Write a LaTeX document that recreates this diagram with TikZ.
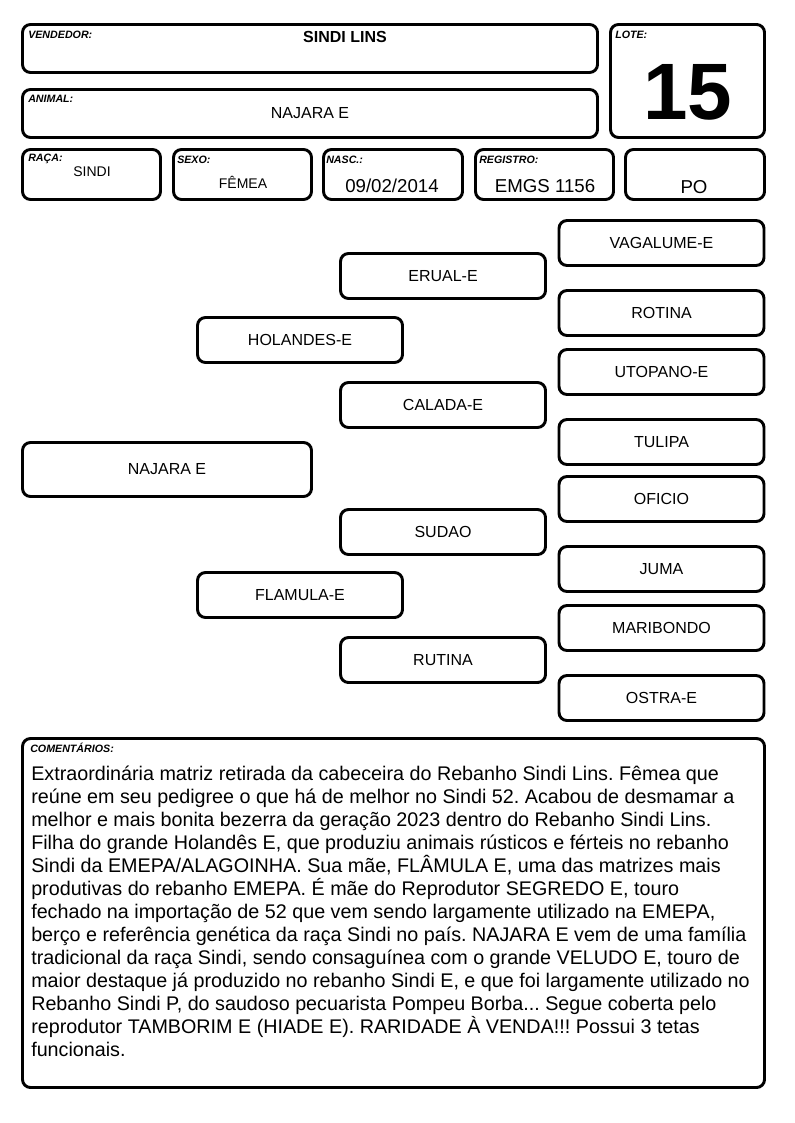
\documentclass[tikz,border=0pt]{standalone}
\usepackage{fontspec}
\setmainfont{Liberation Sans}
\usepackage{tikz}
\usetikzlibrary{positioning,calc}
\frenchspacing

\begin{document}
\begin{tikzpicture}[
    x=0.75pt, y=-0.75pt,
    box/.style={rectangle, draw=black, line width=2.2pt, rounded corners=6pt, inner sep=0pt},
    pedbox/.style={box, minimum width=205*0.75pt, minimum height=45*0.75pt, font=\fontsize{12}{14}\selectfont},
    tag/.style={anchor=base west, inner sep=0pt, font=\fontsize{8}{9}\selectfont\bfseries\itshape},
    value/.style={anchor=base, inner sep=0pt}
]
    \useasboundingbox (0,0) rectangle (794,1123);

    % header
    \node[box, minimum width=575*0.75pt, minimum height=48*0.75pt] (vendedor) at (310,48.5) {};
    \node[box, minimum width=575*0.75pt, minimum height=48*0.75pt] (animal) at (310,113.5) {};
    \node[box, minimum width=154*0.75pt, minimum height=113*0.75pt] (lote) at (687.5,81) {};
    \node[box, minimum width=138*0.75pt, minimum height=50*0.75pt] (raca) at (91.5,174.5) {};
    \node[box, minimum width=138*0.75pt, minimum height=50*0.75pt] (sexo) at (242.5,174.5) {};
    \node[box, minimum width=139*0.75pt, minimum height=50*0.75pt] (nasc) at (393,174.5) {};
    \node[box, minimum width=138*0.75pt, minimum height=50*0.75pt] (registro) at (544.5,174.5) {};
    \node[box, minimum width=139*0.75pt, minimum height=50*0.75pt] (po) at (695,174.5) {};

    \node[tag] (vendedortag) at (28,39) {VENDEDOR:};
    \node[tag] (animaltag) at (28,103) {ANIMAL:};
    \node[tag] (lotetag) at (615,39) {LOTE:};
    \node[tag] (racatag) at (28,162) {RAÇA:};
    \node[tag] (sexotag) at (177,164) {SEXO:};
    \node[tag] (nasctag) at (326,164) {NASC.:};
    \node[tag] (registrotag) at (479,164) {REGISTRO:};

    \node[value, font=\fontsize{12}{14}\selectfont\bfseries] (vendedorval) at (345,43) {SINDI LINS};
    \node[value, font=\fontsize{12}{14}\selectfont] (animalval) at (310,119) {NAJARA E};
    \node[value, font=\fontsize{60}{60}\selectfont\bfseries] (loteval) at (688,120) {15};
    \node[value, font=\fontsize{10.5}{12}\selectfont] (racaval) at (92,177) {SINDI};
    \node[value, font=\fontsize{10.5}{12}\selectfont] (sexoval) at (243,189) {FÊMEA};
    \node[value, font=\fontsize{14}{16}\selectfont] (nascval) at (392,193) {09/02/2014};
    \node[value, font=\fontsize{14}{16}\selectfont] (registroval) at (545,193) {EMGS 1156};
    \node[value, font=\fontsize{14}{16}\selectfont] (poval) at (694,194) {PO};

    % pedigree
    \node[pedbox, minimum width=289*0.75pt, minimum height=54*0.75pt] (najara) at (167,469.5) {NAJARA E};
    \node[pedbox] (holandes) at (300,340) {HOLANDES-E};
    \node[pedbox] (flamula) at (300,595) {FLAMULA-E};
    \node[pedbox] (erual) at (443,276) {ERUAL-E};
    \node[pedbox] (calada) at (443,405) {CALADA-E};
    \node[pedbox] (sudao) at (443,532) {SUDAO};
    \node[pedbox] (rutina) at (443,660) {RUTINA};
    \node[pedbox] (vagalume) at (661.5,243) {VAGALUME-E};
    \node[pedbox] (rotina) at (661.5,313) {ROTINA};
    \node[pedbox] (utopano) at (661.5,372) {UTOPANO-E};
    \node[pedbox] (tulipa) at (661.5,442) {TULIPA};
    \node[pedbox] (oficio) at (661.5,499) {OFICIO};
    \node[pedbox] (juma) at (661.5,569) {JUMA};
    \node[pedbox] (maribondo) at (661.5,628) {MARIBONDO};
    \node[pedbox] (ostra) at (661.5,698) {OSTRA-E};

    % comentarios
    \node[box, minimum width=742*0.75pt, minimum height=349*0.75pt] (comentarios) at (393.5,913) {};
    \node[tag] (comentariostag) at (30,752) {COMENTÁRIOS:};
    \node[anchor=north west, inner sep=0pt, align=left, font=\fontsize{14.8}{17.25}\selectfont] (comentariostxt) at (31,766) {%
Extraordinária matriz retirada da cabeceira do Rebanho Sindi Lins. Fêmea que\\
reúne em seu pedigree o que há de melhor no Sindi 52. Acabou de desmamar a\\
melhor e mais bonita bezerra da geração 2023 dentro do Rebanho Sindi Lins.\\
Filha do grande Holandês E, que produziu animais rústicos e férteis no rebanho\\
Sindi da EMEPA/ALAGOINHA. Sua mãe, FLÂMULA E, uma das matrizes mais\\
produtivas do rebanho EMEPA. É mãe do Reprodutor SEGREDO E, touro\\
fechado na importação de 52 que vem sendo largamente utilizado na EMEPA,\\
berço e referência genética da raça Sindi no país. NAJARA E vem de uma família\\
tradicional da raça Sindi, sendo consaguínea com o grande VELUDO E, touro de\\
maior destaque já produzido no rebanho Sindi E, e que foi largamente utilizado no\\
Rebanho Sindi P, do saudoso pecuarista Pompeu Borba... Segue coberta pelo\\
reprodutor TAMBORIM E (HIADE E). RARIDADE À VENDA!!! Possui 3 tetas\\
funcionais.};
\end{tikzpicture}
\end{document}
